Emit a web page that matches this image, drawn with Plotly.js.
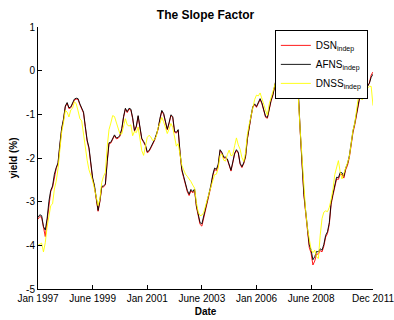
<!DOCTYPE html>
<html>
<head>
<meta charset="utf-8">
<script src="https://cdn.plot.ly/plotly-3.0.1.min.js"></script>
<style>html,body{margin:0;padding:0;background:#fff;}#chart{width:394px;height:320px;}</style>
</head>
<body>
<div id="chart"></div>
<script>
// Observation index (monthly, Jan 1997 .. Dec 2011)
const obsIndex = Array.from({length: 185}, (_, i) => i);

const xTickVals = [0, 30, 60, 90, 120, 150, 184];
const xTickText = ['Jan 1997', 'June 1999', 'Jan 2001', 'June 2003', 'Jan 2006', 'June 2008', 'Dec 2011'];
const yTickVals = [-5, -4, -3, -2, -1, 0, 1];
const yTickText = ['-5', '-4', '-3', '-2', '-1', '0', '1'];

const seriesNames = ['DSN<sub>indep</sub>', 'AFNS<sub>indep</sub>', 'DNSS<sub>indep</sub>'];

const afnsIndep = [
 -3.36,-3.30,-3.32,-3.57,-3.65,-3.39,-2.99,-2.74,-2.64,-2.37,
 -2.22,-2.11,-1.68,-1.32,-1.11,-0.81,-0.73,-0.85,-0.83,-0.72,
 -0.65,-0.63,-0.64,-0.76,-0.84,-0.95,-1.28,-1.59,-1.76,-2.10,
 -2.45,-2.63,-2.95,-3.20,-2.98,-2.65,-2.64,-2.60,-2.08,-1.65,
 -1.64,-1.55,-1.47,-1.54,-1.53,-1.48,-1.33,-1.05,-0.86,-0.94,
 -0.86,-0.88,-1.08,-1.37,-1.27,-1.03,-1.26,-1.55,-1.62,-1.70,
 -1.86,-1.83,-1.75,-1.67,-1.58,-1.46,-1.32,-1.09,-0.91,-0.98,
 -1.14,-1.34,-1.19,-1.01,-1.05,-1.39,-1.41,-1.35,-1.86,-2.26,
 -2.42,-2.58,-2.74,-2.83,-2.72,-2.77,-2.71,-3.09,-3.33,-3.48,
 -3.51,-3.34,-3.16,-2.97,-2.83,-2.62,-2.38,-2.23,-2.26,-2.14,
 -1.81,-1.87,-1.98,-1.98,-2.02,-2.13,-2.28,-2.09,-1.89,-1.81,
 -1.87,-2.12,-2.20,-2.11,-1.96,-1.55,-1.26,-1.04,-0.82,-0.76,
 -0.82,-0.73,-0.64,-0.74,-0.93,-1.05,-1.07,-0.83,-0.68,-0.55,
 -0.31,-0.15,-0.05,0.05,0.10,0.00,0.15,0.10,0.00,0.05,
 -0.10,-0.20,-0.35,-0.52,-1.35,-2.11,-2.80,-3.21,-3.69,-3.99,
 -4.11,-4.33,-4.26,-4.14,-4.15,-4.08,-4.11,-3.98,-3.77,-3.69,
 -3.48,-3.02,-2.82,-2.62,-2.44,-2.45,-2.33,-2.34,-2.42,-2.23,
 -2.13,-1.95,-1.62,-1.38,-1.20,-0.97,-0.70,-0.52,-0.44,-0.38,
 -0.42,-0.35,-0.29,-0.15,-0.08
];

const dsnIndep = [
 -3.40,-3.34,-3.36,-3.62,-3.80,-3.44,-3.02,-2.77,-2.67,-2.40,
 -2.24,-2.13,-1.70,-1.34,-1.13,-0.83,-0.75,-0.87,-0.85,-0.74,
 -0.67,-0.65,-0.66,-0.78,-0.86,-0.97,-1.30,-1.62,-1.79,-2.13,
 -2.48,-2.66,-2.98,-3.22,-3.00,-2.67,-2.66,-2.62,-2.10,-1.67,
 -1.66,-1.57,-1.49,-1.56,-1.55,-1.50,-1.35,-1.07,-0.88,-0.96,
 -0.88,-0.90,-1.10,-1.39,-1.29,-1.05,-1.28,-1.57,-1.64,-1.72,
 -1.88,-1.85,-1.77,-1.69,-1.60,-1.48,-1.34,-1.11,-0.93,-1.00,
 -1.16,-1.36,-1.21,-1.03,-1.07,-1.41,-1.43,-1.37,-1.88,-2.29,
 -2.45,-2.61,-2.77,-2.86,-2.75,-2.80,-2.74,-3.12,-3.37,-3.52,
 -3.56,-3.38,-3.19,-3.00,-2.86,-2.65,-2.41,-2.26,-2.29,-2.17,
 -1.83,-1.89,-2.00,-2.00,-2.04,-2.15,-2.30,-2.11,-1.91,-1.83,
 -1.89,-2.14,-2.22,-2.13,-1.98,-1.57,-1.28,-1.06,-0.84,-0.78,
 -0.84,-0.75,-0.66,-0.76,-0.95,-1.07,-1.09,-0.85,-0.70,-0.57,
 -0.33,-0.17,-0.07,0.03,0.08,-0.02,0.13,0.08,-0.02,0.03,
 -0.12,-0.22,-0.37,-0.55,-1.38,-2.15,-2.84,-3.25,-3.74,-4.05,
 -4.18,-4.45,-4.36,-4.20,-4.20,-4.12,-4.15,-4.02,-3.81,-3.73,
 -3.52,-3.06,-2.86,-2.66,-2.48,-2.49,-2.37,-2.38,-2.46,-2.27,
 -2.17,-1.99,-1.66,-1.42,-1.24,-1.01,-0.74,-0.56,-0.47,-0.41,
 -0.44,-0.37,-0.28,-0.10,-0.03
];

const dnssIndep = [
 -4.00,-3.98,-3.95,-4.15,-3.94,-3.58,-3.30,-3.09,-3.05,-2.71,
 -2.53,-2.25,-1.82,-1.41,-1.19,-0.91,-0.95,-1.06,-0.90,-0.86,
 -0.71,-0.76,-0.92,-1.10,-1.15,-1.49,-1.83,-2.05,-2.27,-2.39,
 -2.52,-2.70,-2.88,-3.09,-2.94,-2.56,-2.42,-2.33,-1.75,-1.35,
 -1.20,-1.03,-1.05,-1.17,-1.33,-1.45,-1.45,-1.30,-1.10,-1.24,
 -1.27,-1.24,-1.49,-1.39,-1.42,-1.29,-1.56,-1.83,-1.94,-1.73,
 -1.53,-1.48,-1.52,-1.60,-1.58,-1.50,-1.30,-1.20,-1.07,-1.17,
 -1.34,-1.44,-1.34,-1.21,-1.30,-1.55,-1.73,-1.67,-1.98,-2.17,
 -2.27,-2.37,-2.42,-2.47,-2.54,-2.62,-2.69,-3.02,-3.24,-3.32,
 -3.31,-3.25,-3.12,-2.95,-2.80,-2.65,-2.48,-2.38,-2.37,-2.23,
 -1.94,-1.91,-2.05,-2.07,-1.92,-1.82,-1.95,-1.93,-1.72,-1.54,
 -1.70,-1.80,-1.99,-2.08,-1.88,-1.46,-1.23,-1.05,-0.85,-0.66,
 -0.56,-0.58,-0.51,-0.67,-0.77,-0.91,-1.02,-0.76,-0.62,-0.47,
 -0.30,-0.20,-0.10,0.00,-0.10,0.05,0.10,0.00,-0.05,0.00,
 -0.15,-0.25,-0.40,-0.63,-1.35,-2.03,-2.71,-3.21,-3.61,-3.89,
 -4.10,-4.17,-4.11,-4.27,-4.30,-3.77,-3.39,-3.24,-3.21,-3.23,
 -3.13,-2.95,-2.72,-2.38,-2.20,-2.06,-2.33,-2.48,-2.35,-2.20,
 -2.11,-1.97,-1.66,-1.37,-1.20,-0.86,-0.59,-0.48,-0.67,-0.59,
 -0.48,-0.40,-0.36,-0.36,-0.80
];

const seriesValues = [dsnIndep, afnsIndep, dnssIndep];
const seriesColors = ['#ff0000', '#000000', '#ffff00'];

const traces = seriesValues.map((vals, k) => ({
  x: obsIndex,
  y: vals,
  name: seriesNames[k],
  type: 'scatter',
  mode: 'lines',
  line: {color: seriesColors[k], width: 0.9},
  hoverinfo: 'skip'
}));

const FONT = 'Liberation Sans, Arial, Helvetica, sans-serif';

const layout = {
  width: 394,
  height: 320,
  margin: {l: 38, r: 21, t: 27, b: 31},
  paper_bgcolor: '#ffffff',
  plot_bgcolor: '#ffffff',
  font: {family: FONT, size: 10, color: '#000000'},
  title: {
    text: '<b>The Slope Factor</b>',
    font: {family: FONT, size: 12, color: '#000000'},
    xref: 'paper', x: 0.5, xanchor: 'center',
    yref: 'container', y: 0.955, yanchor: 'middle'
  },
  showlegend: true,
  legend: {
    x: 0.707, y: 0.989, xanchor: 'left', yanchor: 'top',
    bgcolor: '#ffffff', bordercolor: '#000000', borderwidth: 1,
    font: {family: FONT, size: 10, color: '#000000'},
    tracegroupgap: 0
  },
  xaxis: {
    range: [0, 184],
    tickmode: 'array', tickvals: xTickVals, ticktext: xTickText,
    ticks: 'inside', ticklen: 4, tickcolor: '#000000', tickwidth: 1,
    showline: true, linecolor: '#000000', linewidth: 1,
    showgrid: false, zeroline: false, mirror: false,
    ticklabeloverflow: 'allow',
    tickfont: {family: FONT, size: 10, color: '#000000'},
    title: {text: '<b>Date</b>', font: {family: FONT, size: 10, color: '#000000'}, standoff: 4},
    automargin: false
  },
  yaxis: {
    range: [-5, 1],
    tickmode: 'array', tickvals: yTickVals, ticktext: yTickText,
    ticks: 'inside', ticklen: 4, tickcolor: '#000000', tickwidth: 1,
    showline: true, linecolor: '#000000', linewidth: 1,
    showgrid: false, zeroline: false, mirror: false,
    ticklabeloverflow: 'allow',
    tickfont: {family: FONT, size: 10, color: '#000000'},
    title: {text: '<b>yield (%)</b>', font: {family: FONT, size: 10, color: '#000000'}, standoff: 6},
    automargin: false
  }
};

Plotly.newPlot('chart', traces, layout, {displayModeBar: false, staticPlot: true});
</script>
</body>
</html>
